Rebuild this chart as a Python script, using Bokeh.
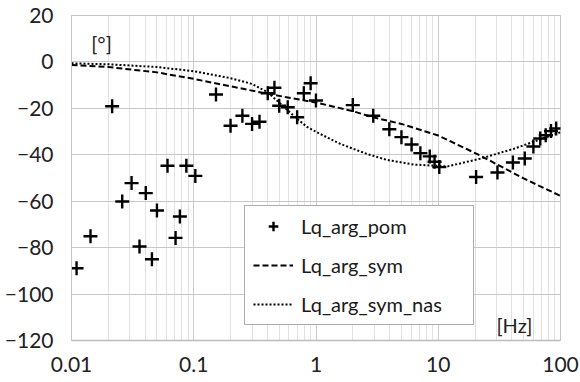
from bokeh.plotting import figure
from bokeh.models import FixedTicker, Legend, LegendItem, Label
from bokeh.embed import file_html
from bokeh.resources import INLINE

# ---- data ----
pom_f = [0.011, 0.0143, 0.0215, 0.026, 0.031, 0.036, 0.0405, 0.0455, 0.050, 0.061,
         0.071, 0.077, 0.087, 0.103, 0.152, 0.200, 0.250, 0.300, 0.345, 0.403,
         0.457, 0.500, 0.587, 0.701, 0.795, 0.904, 0.999, 2.0, 2.94, 3.98,
         5.0, 6.05, 7.14, 8.52, 9.33, 10.2, 20.4, 30.5, 40.8, 51.0,
         60.0, 68.3, 75.7, 83.6, 92.2]
pom_v = [-88.9, -75.1, -19.1, -60.1, -52.2, -79.5, -56.5, -85.0, -64.0, -44.7,
         -75.8, -66.6, -44.7, -49.1, -14.0, -27.5, -23.2, -26.7, -25.8, -13.5,
         -11.1, -18.9, -19.5, -23.8, -13.5, -9.2, -16.6, -18.6, -23.2, -29.0,
         -32.4, -35.6, -39.3, -40.7, -43.0, -45.3, -49.6, -47.6, -43.3, -41.6,
         -36.4, -33.0, -31.6, -29.8, -28.7]

sym_f = [0.01, 0.02, 0.05, 0.1, 0.2, 0.4, 1, 2, 3, 5, 10, 22, 50, 100]
sym_v = [-1.3, -2.2, -4.5, -7.3, -10.5, -13.7, -17.5, -21.2, -24.0, -26.7, -31.7, -40.3, -50.2, -57.7]

nas_f = [0.01, 0.02, 0.05, 0.1, 0.2, 0.3, 0.4, 0.5, 0.7, 0.85, 1.08, 1.58, 2.6, 3.8, 6.3, 11.9, 22, 41.6, 100]
nas_v = [-0.6, -1.0, -2.2, -4.0, -7.0, -9.5, -13.0, -17.5, -24.5, -28.1, -31.0, -35.3, -39.6, -42.2, -44.2, -45.0, -41.7, -37.4, -30.3]

x_ticks = [0.01, 0.1, 1, 10, 100]
x_labels = ["0.01", "0.1", "1", "10", "100"]
y_ticks = [-120, -100, -80, -60, -40, -20, 0, 20]
series_names = ["Lq_arg_pom", "Lq_arg_sym", "Lq_arg_sym_nas"]
y_unit = "[°]"
x_unit = "[Hz]"

FONT = "Lato"

p = figure(width=580, height=382, x_axis_type="log", x_range=(0.01, 100), y_range=(-120, 20),
           output_backend="svg", toolbar_location=None,
           min_border_left=71, min_border_right=20, min_border_top=15, min_border_bottom=42)
p.background_fill_color = "white"
p.border_fill_color = "white"
p.outline_line_color = "#c4c4c4"
p.outline_line_width = 1

minor = [m * 10.0 ** e for e in range(-2, 2) for m in range(2, 10)]
p.xaxis.ticker = FixedTicker(ticks=x_ticks, minor_ticks=minor)
p.xaxis.major_label_overrides = {t: lab for t, lab in zip(x_ticks, x_labels)}
p.yaxis.ticker = FixedTicker(ticks=y_ticks)

for ax in (p.xaxis, p.yaxis):
    ax.major_tick_line_color = None
    ax.minor_tick_line_color = None
    ax.major_tick_out = 0
    ax.minor_tick_out = 0
    ax.major_label_text_font = FONT
    ax.major_label_text_color = "#222222"
p.xaxis.axis_line_color = "#bdbdbd"
p.xaxis.axis_line_width = 1.5
p.yaxis.axis_line_color = "#c4c4c4"
p.xaxis.major_label_text_font_size = "21px"
p.yaxis.major_label_text_font_size = "21px"
p.xaxis.major_label_standoff = 16
p.yaxis.major_label_standoff = 18

p.xgrid.ticker = FixedTicker(ticks=x_ticks, minor_ticks=minor)
p.xgrid.grid_line_color = "#cccccc"
p.xgrid.minor_grid_line_color = "#e2e2e2"
p.ygrid.ticker = FixedTicker(ticks=y_ticks)
p.ygrid.grid_line_color = "#c8c8c8"

r1 = p.scatter(pom_f, pom_v, marker="cross", size=14, line_color="black", line_width=2.4)
r2 = p.line(sym_f, sym_v, line_color="black", line_width=2, line_dash="6 3")
r3 = p.line(nas_f, nas_v, line_color="black", line_width=2, line_dash="2 2")

legend = Legend(items=[LegendItem(label=series_names[0], renderers=[r1]),
                       LegendItem(label=series_names[1], renderers=[r2]),
                       LegendItem(label=series_names[2], renderers=[r3])],
                location=(173, 15), margin=0, padding=8, spacing=15,
                glyph_width=40, glyph_height=24, label_height=24, label_width=164,
                label_standoff=8, border_line_color="#595959", border_line_width=1,
                background_fill_color="white", background_fill_alpha=1.0,
                label_text_font=FONT, label_text_font_size="20px", label_text_color="#1a1a1a")
p.add_layout(legend)

p.add_layout(Label(x=0.0176, y=8, text=y_unit, text_align="center", text_baseline="middle",
                   text_font=FONT, text_font_size="20px", text_color="#222222"))
p.add_layout(Label(x=42, y=-113.5, text=x_unit, text_align="center", text_baseline="middle",
                   text_font=FONT, text_font_size="20px", text_color="#222222"))

open("out.html", "w").write(file_html(p, INLINE))
